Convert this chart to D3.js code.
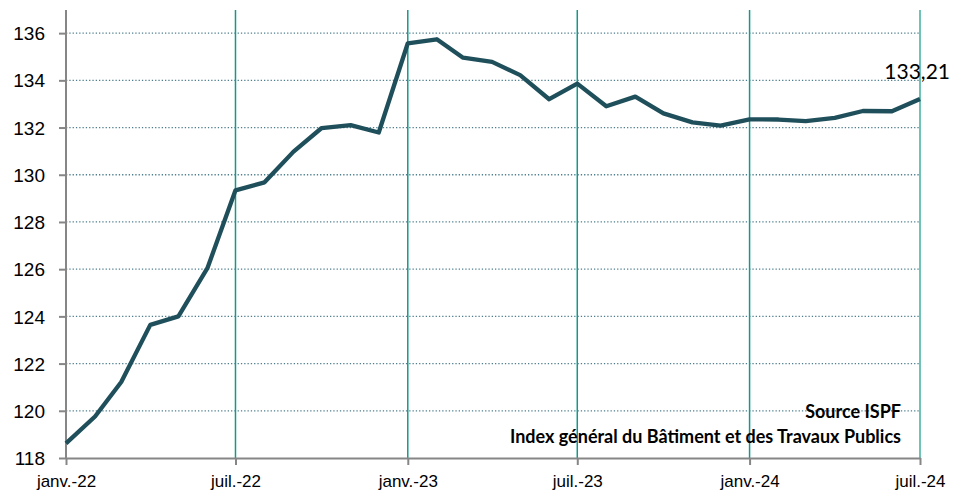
<!DOCTYPE html>
<html>
<head>
<meta charset="utf-8">
<script src="https://cdn.jsdelivr.net/npm/d3@7"></script>
<style>
  body { margin: 0; background: #fff; }
  svg { display: block; font-family: Lato, "Open Sans", sans-serif; }
</style>
</head>
<body>
<div id="app"></div>
<script>
// monthly index, janv.-22 .. juil.-24
const months = d3.range(31).map((i) => new Date(2022, i, 1));
const values = [
  118.62, 119.76, 121.22, 123.64, 124.0, 126.04, 129.34, 129.68, 130.98, 131.98,
  132.1, 131.79, 135.57, 135.74, 134.96, 134.78, 134.22, 133.2, 133.86, 132.9,
  133.31, 132.6, 132.22, 132.08, 132.35, 132.34, 132.27, 132.41, 132.7, 132.69,
  133.21,
];
const yTicks = [118, 120, 122, 124, 126, 128, 130, 132, 134, 136];
const xTicks = [
  new Date(2022, 0, 1), new Date(2022, 6, 1), new Date(2023, 0, 1),
  new Date(2023, 6, 1), new Date(2024, 0, 1), new Date(2024, 6, 1),
];
const xTickLabels = ["janv.-22", "juil.-22", "janv.-23", "juil.-23", "janv.-24", "juil.-24"];
const lastLabel = "133,21";
const sourceLines = ["Source ISPF", "Index général du Bâtiment et des Travaux Publics"];

const width = 956, height = 493;
const plot = { left: 66, right: 920, top: 10, bottom: 458 };

const svg = d3.select("#app").append("svg")
  .attr("width", width).attr("height", height);

const x = d3.scaleTime().domain([months[0], months[30]]).range([plot.left, plot.right]);
const y = d3.scaleLinear().domain([118, 136.98]).range([plot.bottom, plot.top]);

// horizontal dotted grid
svg.append("g")
  .selectAll("line")
  .data(yTicks.slice(1))
  .enter().append("line")
  .attr("x1", plot.left).attr("x2", plot.right)
  .attr("y1", (d) => y(d)).attr("y2", (d) => y(d))
  .style("stroke", "#4f7f8e")
  .style("stroke-width", 1.3)
  .style("stroke-dasharray", "1.3 2");

// vertical grid
svg.append("g")
  .selectAll("line")
  .data(xTicks.slice(1))
  .enter().append("line")
  .attr("x1", (d) => x(d)).attr("x2", (d) => x(d))
  .attr("y1", plot.top).attr("y2", plot.bottom)
  .style("stroke", (d, i) => (i === 4 ? "#3fae9e" : "#13998a"))
  .style("stroke-width", 1.5);

// y axis
const yAxis = svg.append("g")
  .attr("transform", `translate(${plot.left},0)`)
  .call(d3.axisLeft(y).tickValues(yTicks).tickSize(7).tickSizeOuter(0).tickFormat(d3.format("d")));
yAxis.select(".domain").attr("d", `M0,${plot.top}V${plot.bottom}`);
yAxis.selectAll("path, line").style("stroke", "#868686").style("stroke-width", 2);
yAxis.selectAll("text")
  .attr("x", -21)
  .attr("dy", "0.35em")
  .style("font-size", "19px")
  .style("fill", "#000");

// x axis
const xAxis = svg.append("g")
  .attr("transform", `translate(0,${plot.bottom})`)
  .call(d3.axisBottom(x).tickValues(xTicks).tickSize(7).tickSizeOuter(0)
    .tickFormat((d, i) => xTickLabels[i]));
xAxis.selectAll("path, line").style("stroke", "#868686").style("stroke-width", 2);
xAxis.selectAll("text")
  .attr("y", 17)
  .attr("dy", "0.71em")
  .style("font-size", "17px")
  .style("fill", "#000");

// index line
const line = d3.line().x((d, i) => x(months[i])).y((d) => y(d));
svg.append("path")
  .datum(values)
  .attr("d", line)
  .style("fill", "none")
  .style("stroke", "#1f4f5b")
  .style("stroke-width", 4.3)
  .style("stroke-linejoin", "round");

// last value label
svg.append("text")
  .attr("x", x(months[30]) + 30)
  .attr("y", y(values[30]) - 20)
  .attr("text-anchor", "end")
  .style("font-size", "21px")
  .style("fill", "#000")
  .text(lastLabel);

// source
svg.append("g")
  .selectAll("text")
  .data(sourceLines)
  .enter().append("text")
  .attr("x", 901)
  .attr("y", (d, i) => 418 + i * 25)
  .attr("text-anchor", "end")
  .style("font-size", "18px")
  .style("font-weight", "bold")
  .style("fill", "#000")
  .text((d) => d);
</script>
</body>
</html>
